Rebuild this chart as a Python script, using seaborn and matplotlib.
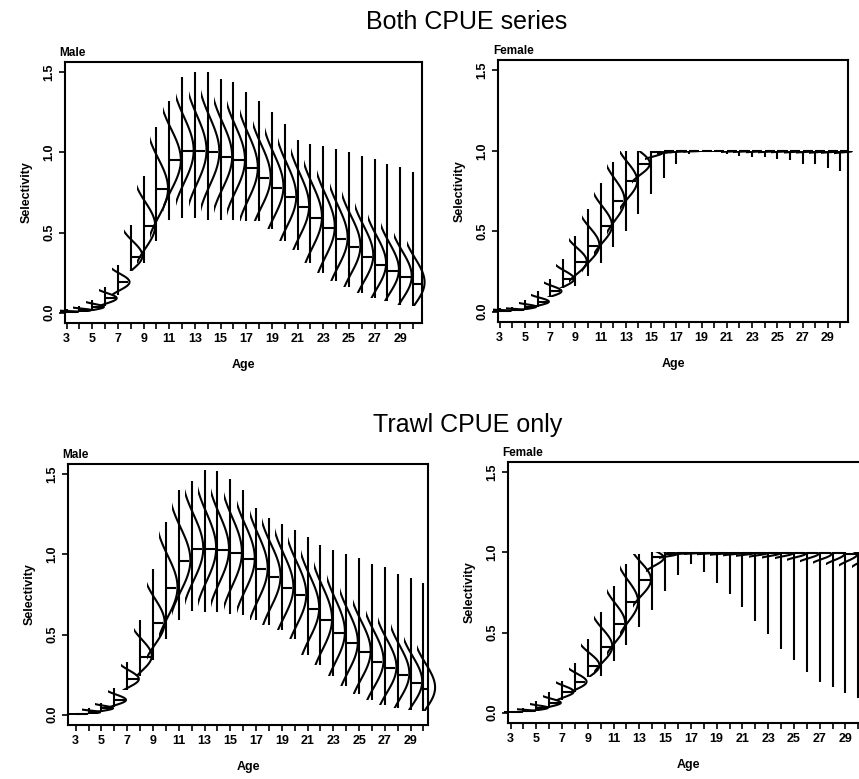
"""Posterior selectivity-at-age plots for the two CPUE scenarios."""

import matplotlib

matplotlib.use("Agg")

import matplotlib.pyplot as plt
import numpy as np
import pandas as pd
import seaborn as sns
from matplotlib.collections import PolyCollection
from matplotlib.lines import Line2D
from matplotlib.patches import Rectangle

AGES = list(range(3, 31))

# Both CPUE series - male (min, lower quartile, median, upper quartile, max)
BOTH_MALE_LO = [0.000, 0.005, 0.010, 0.040, 0.110, 0.260, 0.310, 0.450, 0.580, 0.590,
                0.590, 0.580, 0.580, 0.580, 0.570, 0.570, 0.520, 0.450, 0.390, 0.310,
                0.250, 0.200, 0.160, 0.120, 0.090, 0.070, 0.050, 0.040]
BOTH_MALE_Q1 = [0.003, 0.010, 0.025, 0.070, 0.160, 0.310, 0.460, 0.670, 0.840, 0.890,
                0.890, 0.880, 0.860, 0.840, 0.790, 0.740, 0.680, 0.620, 0.560, 0.490,
                0.430, 0.370, 0.320, 0.270, 0.220, 0.190, 0.150, 0.120]
BOTH_MALE_MED = [0.005, 0.015, 0.035, 0.090, 0.190, 0.350, 0.540, 0.770, 0.950, 1.010,
                 1.010, 1.000, 0.970, 0.950, 0.900, 0.840, 0.780, 0.720, 0.660, 0.590,
                 0.530, 0.460, 0.410, 0.350, 0.300, 0.260, 0.220, 0.180]
BOTH_MALE_Q3 = [0.008, 0.022, 0.048, 0.110, 0.225, 0.420, 0.640, 0.900, 1.080, 1.150,
                1.160, 1.150, 1.120, 1.100, 1.050, 0.990, 0.930, 0.870, 0.810, 0.740,
                0.680, 0.610, 0.550, 0.490, 0.430, 0.390, 0.340, 0.300]
BOTH_MALE_HI = [0.020, 0.040, 0.080, 0.160, 0.300, 0.550, 0.850, 1.160, 1.320, 1.470,
                1.500, 1.500, 1.460, 1.440, 1.380, 1.320, 1.250, 1.180, 1.080, 1.050,
                1.040, 1.020, 1.000, 0.980, 0.960, 0.930, 0.910, 0.880]

# Both CPUE series - female
BOTH_FEMALE_LO = [0.000, 0.003, 0.010, 0.030, 0.090, 0.145, 0.160, 0.220, 0.300, 0.400,
                  0.500, 0.610, 0.730, 0.830, 0.920, 0.980, 0.990, 0.990, 0.980, 0.970,
                  0.960, 0.960, 0.950, 0.940, 0.920, 0.920, 0.890, 0.875]
BOTH_FEMALE_Q1 = [0.003, 0.008, 0.022, 0.050, 0.110, 0.180, 0.270, 0.360, 0.480, 0.620,
                  0.750, 0.880, 0.970, 0.990, 0.995, 0.997, 0.997, 0.997, 0.996, 0.996,
                  0.995, 0.995, 0.995, 0.994, 0.994, 0.993, 0.993, 0.992]
BOTH_FEMALE_MED = [0.005, 0.010, 0.030, 0.060, 0.125, 0.200, 0.310, 0.410, 0.530, 0.690,
                   0.810, 0.920, 0.990, 0.998, 0.999, 1.000, 1.000, 1.000, 0.999, 0.999,
                   0.999, 0.999, 0.999, 0.998, 0.998, 0.998, 0.998, 0.998]
BOTH_FEMALE_Q3 = [0.008, 0.015, 0.040, 0.080, 0.150, 0.240, 0.370, 0.490, 0.620, 0.780,
                  0.890, 0.970, 0.998, 1.000, 1.000, 1.000, 1.000, 1.000, 1.000, 1.000,
                  1.000, 1.000, 1.000, 1.000, 1.000, 1.000, 1.000, 1.000]
BOTH_FEMALE_HI = [0.020, 0.030, 0.070, 0.125, 0.200, 0.325, 0.470, 0.635, 0.800, 0.930,
                  1.000, 1.000, 1.000, 1.000, 1.000, 1.000, 1.000, 1.000, 1.000, 1.000,
                  1.000, 1.000, 1.000, 1.000, 1.000, 1.000, 1.000, 1.000]

# Trawl CPUE only - male
TRAWL_MALE_LO = [0.000, 0.005, 0.015, 0.050, 0.155, 0.240, 0.340, 0.470, 0.590, 0.650,
                 0.640, 0.640, 0.630, 0.620, 0.590, 0.560, 0.530, 0.470, 0.370, 0.310,
                 0.240, 0.180, 0.130, 0.090, 0.060, 0.040, 0.030, 0.020]
TRAWL_MALE_Q1 = [0.002, 0.010, 0.030, 0.075, 0.195, 0.320, 0.500, 0.690, 0.850, 0.920,
                 0.920, 0.910, 0.890, 0.860, 0.800, 0.750, 0.690, 0.640, 0.560, 0.490,
                 0.410, 0.350, 0.300, 0.250, 0.210, 0.170, 0.130, 0.100]
TRAWL_MALE_MED = [0.004, 0.015, 0.040, 0.090, 0.220, 0.360, 0.570, 0.790, 0.960, 1.035,
                  1.035, 1.030, 1.010, 0.970, 0.910, 0.860, 0.790, 0.745, 0.660, 0.590,
                  0.510, 0.445, 0.390, 0.330, 0.290, 0.250, 0.200, 0.160]
TRAWL_MALE_Q3 = [0.006, 0.022, 0.050, 0.115, 0.260, 0.440, 0.680, 0.930, 1.100, 1.180,
                 1.190, 1.180, 1.160, 1.120, 1.060, 1.000, 0.940, 0.890, 0.810, 0.740,
                 0.660, 0.590, 0.530, 0.470, 0.420, 0.380, 0.320, 0.280]
TRAWL_MALE_HI = [0.010, 0.040, 0.070, 0.165, 0.330, 0.590, 0.910, 1.200, 1.400, 1.460,
                 1.530, 1.520, 1.470, 1.400, 1.290, 1.230, 1.190, 1.150, 1.110, 1.060,
                 1.030, 1.000, 0.980, 0.940, 0.920, 0.880, 0.850, 0.820]

# Trawl CPUE only - female
TRAWL_FEMALE_LO = [0.000, 0.003, 0.010, 0.030, 0.080, 0.130, 0.220, 0.230, 0.320, 0.420,
                   0.535, 0.640, 0.760, 0.860, 0.930, 0.875, 0.810, 0.740, 0.660, 0.575,
                   0.490, 0.400, 0.330, 0.255, 0.190, 0.160, 0.120, 0.090]
TRAWL_FEMALE_Q1 = [0.002, 0.007, 0.022, 0.050, 0.110, 0.170, 0.260, 0.360, 0.490, 0.620,
                   0.770, 0.930, 0.980, 0.993, 0.995, 0.994, 0.992, 0.990, 0.988, 0.985,
                   0.982, 0.980, 0.975, 0.970, 0.965, 0.960, 0.955, 0.950]
TRAWL_FEMALE_MED = [0.004, 0.010, 0.030, 0.060, 0.130, 0.190, 0.290, 0.410, 0.555, 0.690,
                    0.830, 0.970, 0.990, 0.998, 0.999, 0.999, 0.998, 0.998, 0.997, 0.997,
                    0.996, 0.996, 0.995, 0.995, 0.994, 0.994, 0.993, 0.993]
TRAWL_FEMALE_Q3 = [0.006, 0.015, 0.040, 0.080, 0.155, 0.230, 0.350, 0.490, 0.640, 0.780,
                   0.900, 0.990, 0.998, 1.000, 1.000, 1.000, 1.000, 1.000, 1.000, 1.000,
                   1.000, 1.000, 1.000, 1.000, 1.000, 1.000, 1.000, 1.000]
TRAWL_FEMALE_HI = [0.010, 0.030, 0.070, 0.130, 0.200, 0.310, 0.460, 0.630, 0.790, 0.930,
                   0.990, 1.000, 1.000, 1.000, 1.000, 1.000, 1.000, 1.000, 1.000, 1.000,
                   1.000, 1.000, 1.000, 1.000, 1.000, 1.000, 1.000, 1.000]

SCENARIOS = ["Both CPUE series", "Trawl CPUE only"]
SEXES = ["Male", "Female"]
YTICKS = [0.0, 0.5, 1.0, 1.5]

LINE_W = 1.5
HALF_W = 0.9


def clip_to_range(ax, artists, lo, hi):
    """Keep each density curve inside the posterior min-max range."""
    for art in artists:
        if isinstance(art, PolyCollection) and art.get_paths():
            xs = art.get_paths()[0].vertices[:, 0]
        elif isinstance(art, Line2D):
            xs = np.asarray(art.get_xdata(), dtype=float)
        else:
            continue
        if xs.size == 0:
            continue
        # the violin path is symmetric about its age position
        centre = 0.5 * (float(np.min(xs)) + float(np.max(xs)))
        k = int(round(centre)) - AGES[0]
        if not 0 <= k < len(AGES):
            continue
        box = Rectangle((AGES[k] - 0.5, lo[k]), 2.5, hi[k] - lo[k],
                        transform=ax.transData)
        art.set_clip_path(box)


def draw_panel(ax, lo, q1, med, q3, hi, sex, xlim):
    """Half violins of the posterior with min-max range and median tick."""
    frame = pd.DataFrame({
        "Age": np.repeat(AGES, 3),
        "Selectivity": np.column_stack([q1, med, q3]).ravel(),
        "side": "right",
    })
    before = set(ax.get_children())
    # second hue level of a split violin is drawn on the right-hand side;
    # no dodging so the flat side sits on the age itself
    sns.violinplot(
        data=frame, x="Age", y="Selectivity", hue="side",
        hue_order=["left", "right"], palette=["black", "black"],
        native_scale=True, split=True, dodge=False, inner=None, fill=False,
        linewidth=LINE_W, density_norm="width", cut=3, bw_adjust=1.5,
        width=2 * HALF_W, legend=False, ax=ax,
    )
    new = [a for a in ax.get_children() if a not in before]
    clip_to_range(ax, new, lo, hi)

    ages = np.array(AGES, dtype=float)
    ax.vlines(ages, lo, hi, color="black", lw=LINE_W)
    ax.hlines(med, ages, ages + 0.9 * HALF_W, color="black", lw=LINE_W)

    ax.set_xlim(*xlim)
    ax.set_ylim(-0.065, 1.565)
    ax.set_xticks(AGES)
    ax.set_xticklabels([str(a) if a % 2 else "" for a in AGES],
                       fontweight="bold", fontsize=9, color="black")
    ax.set_yticks(YTICKS)
    ax.set_yticklabels([f"{v:.1f}" for v in YTICKS], rotation=90,
                       va="center", fontsize=9, fontweight="bold",
                       color="black")
    ax.tick_params(direction="out", length=4, width=1.2, pad=3,
                   color="black")
    for spine in ax.spines.values():
        spine.set_visible(True)
        spine.set_linewidth(1.5)
        spine.set_color("black")
    ax.set_xlabel("Age", fontweight="bold", fontsize=9, labelpad=10,
                  color="black")
    ax.set_ylabel("Selectivity", fontweight="bold", fontsize=9, labelpad=8,
                  color="black")
    ax.text(-0.015, 1.012, sex, transform=ax.transAxes, ha="left",
            va="bottom", fontweight="bold", fontsize=8.5, color="black")


sns.set_theme(style="ticks")
plt.rcParams["font.family"] = ["Liberation Sans", "DejaVu Sans"]

fig = plt.figure(figsize=(8.59, 7.79), dpi=100)

W, H = 859.0, 779.0
# (left, top, right, bottom) in pixels
boxes = [
    (65, 62, 422, 323),
    (498, 60, 848, 322),
    (68, 464, 428, 725),
    (508, 462, 868, 723),
]
xlims = [(2.87, 30.7), (2.87, 30.6), (2.4, 30.35), (2.8, 30.75)]
panels = [
    (BOTH_MALE_LO, BOTH_MALE_Q1, BOTH_MALE_MED, BOTH_MALE_Q3, BOTH_MALE_HI),
    (BOTH_FEMALE_LO, BOTH_FEMALE_Q1, BOTH_FEMALE_MED, BOTH_FEMALE_Q3, BOTH_FEMALE_HI),
    (TRAWL_MALE_LO, TRAWL_MALE_Q1, TRAWL_MALE_MED, TRAWL_MALE_Q3, TRAWL_MALE_HI),
    (TRAWL_FEMALE_LO, TRAWL_FEMALE_Q1, TRAWL_FEMALE_MED, TRAWL_FEMALE_Q3, TRAWL_FEMALE_HI),
]

for i, (box, xlim, series) in enumerate(zip(boxes, xlims, panels)):
    l, t, r, b = box
    ax = fig.add_axes([l / W, 1 - b / H, (r - l) / W, (b - t) / H])
    draw_panel(ax, *series, SEXES[i % 2], xlim)

fig.text(467 / W, 1 - 22 / H, SCENARIOS[0], ha="center", va="center",
         fontsize=18, color="black")
fig.text(468 / W, 1 - 425 / H, SCENARIOS[1], ha="center", va="center",
         fontsize=18, color="black")

fig.savefig("out.png", dpi=100)
plt.close(fig)
